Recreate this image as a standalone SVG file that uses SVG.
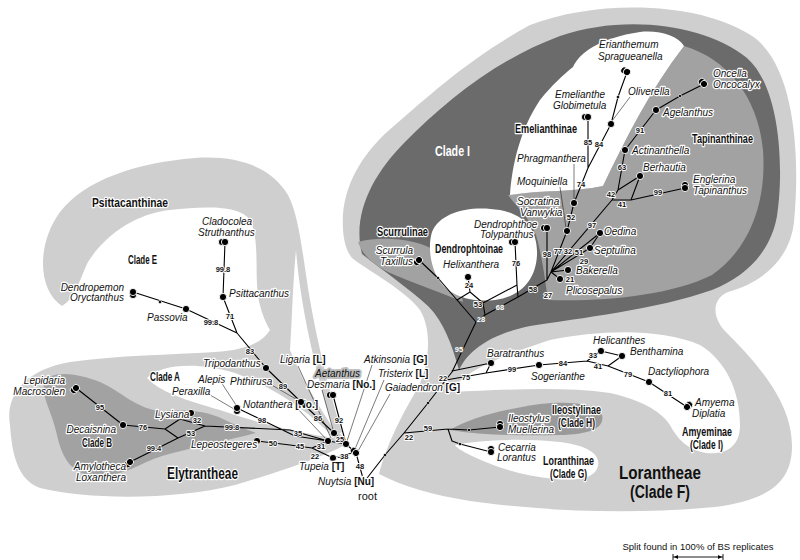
<svg xmlns="http://www.w3.org/2000/svg" width="800" height="560" viewBox="0 0 800 560">
<defs>
<style>
.lg{fill:#cfcfcf}.mg{fill:#a2a2a2}.dg{fill:#6b6b6b}.wh{fill:#fff}.ig{fill:#9a9a9a}
.br{stroke:#000;stroke-width:1.1;fill:none;stroke-linecap:round;stroke-linejoin:round}
.ld{stroke:#222;stroke-width:0.6;fill:none}
.dot{fill:#000;stroke:#fff;stroke-width:0.9}
.sd{fill:#000;stroke:#fff;stroke-width:0.6}
text{font-family:"Liberation Sans",Arial,sans-serif;stroke:#fff;stroke-width:2.4px;paint-order:stroke;stroke-linejoin:round;fill:#111}
.t{font-style:italic;font-size:10px}
.b{font-weight:bold;font-size:12.5px}
.n{font-weight:bold;font-size:7.5px;text-anchor:middle;stroke-width:1.8px}
.nw{fill:#fff;stroke:#6b6b6b}
.u{font-style:normal;font-weight:bold}
.e{text-anchor:end}
.s{font-size:9.5px;stroke:none;fill:#111}
</style>
<circle id="d" r="3.6" class="dot"/>
<g id="cr"><circle cx="-3" r="3.6" class="dot"/><circle r="3.6" class="dot"/></g>
</defs>
<rect width="800" height="560" fill="#fff"/>
<g id="regions">
<path class="lg" d="M62,306 C38,290 36,245 60,212 C85,180 135,163 195,158 C240,155 272,168 288,195 C300,218 303,260 310,300 C318,345 330,395 342,432 L334,436 C318,400 298,368 280,345 C268,330 258,310 257,285 C256,260 258,235 250,220 C240,205 205,206 170,210 C135,214 105,235 88,262 C80,278 76,298 62,306 Z"/>
<path class="lg" d="M10,425 C5,395 25,370 70,362 C120,355 170,355 215,352 C245,350 262,343 270,330 L282,340 C300,375 320,410 342,436 L343,446 C320,458 285,470 235,485 C175,500 90,500 40,488 C18,480 12,455 10,425 Z"/>
<path class="wh" d="M296,250 C300,300 312,360 333,428 C318,405 300,375 290,350 C292,320 293,280 296,250 Z"/>
<path class="wh" d="M147,378 C160,365 195,361 235,373 C275,388 310,412 334,438 C300,433 260,424 220,410 C185,400 160,392 147,378 Z"/>
<path class="mg" d="M44,384 C48,370 75,372 100,382 C122,392 138,410 162,411 C185,410 205,410 225,420 C238,426 248,430 256,433 C225,441 190,448 162,456 C140,463 125,476 98,476 C72,476 62,458 57,435 C52,412 42,398 44,384 Z"/>
<path class="lg" d="M343,214 C346,180 365,150 395,125 C430,95 470,58 530,25 C600,-2 705,2 755,38 C796,70 800,160 794,222 C790,258 764,282 728,292 C712,299 712,316 724,330 C754,360 792,400 792,446 C792,483 768,500 715,507 C630,515 540,511 470,501 C432,495 402,486 379,474 C386,446 403,412 418,388 C430,362 432,330 420,310 C405,290 370,272 352,258 C344,248 342,232 343,214 Z"/>
<path class="dg" d="M362,254 C352,215 372,175 405,142 C445,102 495,60 560,36 C625,14 705,24 747,58 C781,88 784,170 777,216 C771,250 748,276 712,290 C655,310 580,318 530,326 C496,333 470,347 459,370 C452,345 444,322 428,306 C408,288 385,272 362,254 Z"/>
<path class="mg" d="M358,242 C380,236 418,238 437,252 C452,265 460,285 463,302 C440,292 410,282 388,272 C372,264 362,254 358,242 Z"/>
<path class="mg" d="M508,195 C540,190 575,192 603,186 C625,140 650,90 684,46 C725,58 758,95 763,150 C767,205 748,250 712,275 C670,296 600,302 548,300 C545,280 542,255 536,235 C528,215 515,205 508,195 Z"/>
<path class="wh" d="M573,67 C580,52 600,38 640,32 C660,30 678,36 684,46 C650,90 625,140 603,186 C575,192 540,190 510,195 C512,165 520,130 540,100 C552,85 563,75 573,67 Z"/>
<path class="wh" d="M432,232 C440,212 470,205 500,210 C525,215 538,230 537,255 C536,280 520,297 495,300 C470,303 445,295 436,275 C430,262 428,245 432,232 Z"/>
<path class="wh" d="M452,390 C465,372 490,360 550,340 C600,330 660,328 700,345 C725,360 740,390 740,425 C740,445 728,455 706,453 C688,450 678,440 670,425 C660,410 640,400 610,393 C560,386 500,390 452,392 Z"/>
<path class="ig" d="M450,430 C470,418 500,410 540,404 C570,401 595,403 602,415 C605,428 590,434 560,435 C520,436 480,435 450,430 Z"/>
<path class="wh" d="M455,445 C480,440 520,438 560,442 C590,446 600,455 598,466 C595,478 580,481 555,479 C520,476 490,465 470,455 C462,451 457,448 455,445 Z"/>
</g>
<g id="connectors">
<path class="br" d="M76,388 L123,425 L165,429 L180,419 L191,413 M165,429 L178,438 L205,426 L180,419 M130,462 L178,438 M205,426 L290,430 L328,441 M237,408 L295,436 L328,441 M257,441 L290,445 L312,448 L328,441 M312,448 L333,458"/>
<path class="br" d="M133,292 L186,309 L237,333 M225,242 L223,297 L237,333 L266,368 L301,402 L334,433 L346,444 M333,395 L346,444 M328,441 L346,444 L356,453 L364,482 M333,458 L352,453"/>
<path class="br" d="M364,482 L385,455 L404,433 L428,403 L452,372 L476,322 M404,433 L448,429 L469,430 L500,427 M448,429 L452,441 L460,444 L491,452"/>
<path class="br" d="M446,380 L486,373 L539,365 L587,361 L601,351 M452,371 L491,363 M486,373 L491,363 M587,361 L608,366 L622,356 L601,351 M608,366 L649,382 L687,407"/>
<path class="br" d="M476,322 L457,300 L438,278 L419,260 M457,300 L470,292 L468,277 M470,292 L483,303 L517,285 L515,242 M476,322 L485,315 L483,303 M485,315 L518,297 L517,285 M518,297 L547,280 L547,228 M547,280 L551,272 L567,231 L574,203 L588,168 L588,117 M588,168 L611,124 L618,97 L627,72 M551,272 L612,200 L618,190 L625,150 L656,110 L680,96 L704,84 M618,190 L640,176 L631,200 L612,200 M631,200 L685,188 M551,272 L600,233 L590,248 L551,272 M551,272 L568,270 M551,272 L560,279"/>
<path class="ld" d="M270,384 L301,402 M221,382 L236,405 M205,392 L234,409 M295,406 L328,441 M298,366 L331,438 M322,390 L334,433 M372,365 L347,441 M384,380 L355,449 M390,394 L358,451 M560,187 L566,228 M574,164 L574,200 M630,97 L612,121"/>
<g>
<circle class="sd" cx="160" cy="302" r="1.6"/><circle class="sd" cx="438" cy="278" r="1.6"/><circle class="sd" cx="618" cy="97" r="1.6"/><circle class="sd" cx="680" cy="96" r="1.6"/><circle class="sd" cx="469" cy="430" r="1.6"/><circle class="sd" cx="460" cy="444" r="1.6"/><circle class="sd" cx="385" cy="455" r="1.6"/><circle class="sd" cx="428" cy="403" r="1.6"/>
</g>
<g>
<text class="n" x="100" y="410">95</text><text class="n" x="143" y="430">76</text><text class="n" x="197" y="423">32</text><text class="n" x="191" y="436">53</text><text class="n" x="154" y="451">99.4</text><text class="n" x="232" y="430">99.8</text>
<text class="n" x="262" y="423">98</text><text class="n" x="298" y="436">35</text><text class="n" x="273" y="446">50</text><text class="n" x="300" y="449">45</text><text class="n" x="321" y="449">31</text><text class="n" x="315" y="459">22</text>
<text class="n" x="318" y="421">86</text><text class="n" x="339" y="423">92</text><text class="n" x="340" y="442">25</text><text class="n" x="343" y="459">-38</text><text class="n" x="360" y="469">48</text><text class="n" x="283" y="389">89</text><text class="n" x="250" y="354">83</text><text class="n" x="230" y="319">71</text><text class="n" x="223" y="272">99.8</text><text class="n" x="211" y="325">99.8</text>
<text class="n" x="409" y="440">22</text><text class="n" x="428" y="431">59</text><text class="n" x="443" y="381">22</text>
<text class="n nw" x="459" y="352">95</text><text class="n nw" x="481" y="322">28</text><text class="n nw" x="500" y="310">68</text>
<text class="n" x="469" y="288">24</text><text class="n" x="478" y="307">53</text><text class="n" x="516" y="266">76</text><text class="n" x="533" y="292">58</text><text class="n" x="547" y="257">98</text><text class="n" x="548" y="298">27</text><text class="n" x="558" y="254">77</text><text class="n" x="568" y="254">32</text><text class="n" x="579" y="255">51</text><text class="n" x="584" y="264">29</text><text class="n" x="570" y="282">21</text><text class="n" x="592" y="228">97</text><text class="n" x="571" y="220">52</text><text class="n" x="581" y="187">74</text><text class="n" x="588" y="145">85</text><text class="n" x="599" y="147">84</text><text class="n" x="640" y="133">91</text><text class="n" x="622" y="170">63</text><text class="n" x="611" y="197">42</text><text class="n" x="622" y="207">41</text><text class="n" x="658" y="195">99</text>
<text class="n" x="466" y="380">75</text><text class="n" x="512" y="372">99</text><text class="n" x="563" y="366">84</text><text class="n" x="593" y="358">33</text><text class="n" x="598" y="369">41</text><text class="n" x="628" y="377">79</text><text class="n" x="668" y="396">81</text>
</g>
</g>
<g id="labels">
<text class="b" x="92" y="207" textLength="76" lengthAdjust="spacingAndGlyphs">Psittacanthinae</text>
<text class="b" x="128" y="264" textLength="29" lengthAdjust="spacingAndGlyphs">Clade E</text>
<text class="b" x="150" y="381" textLength="30" lengthAdjust="spacingAndGlyphs">Clade A</text>
<text class="b" x="82" y="447" textLength="30" lengthAdjust="spacingAndGlyphs">Clade B</text>
<text class="b" x="167" y="479" style="font-size:17px" textLength="71" lengthAdjust="spacingAndGlyphs">Elytrantheae</text>
<text class="b" x="377" y="236" textLength="51" lengthAdjust="spacingAndGlyphs">Scurrulinae</text>
<text class="b" x="435" y="253" textLength="68" lengthAdjust="spacingAndGlyphs">Dendrophtoinae</text>
<text class="b" x="435" y="156" style="font-size:15px;stroke:none;fill:#fff" textLength="35" lengthAdjust="spacingAndGlyphs">Clade I</text>
<text class="b" x="515" y="133" textLength="62" lengthAdjust="spacingAndGlyphs">Emelianthinae</text>
<text class="b" x="692" y="143" textLength="61" lengthAdjust="spacingAndGlyphs">Tapinanthinae</text>
<text class="b" x="552" y="414" textLength="49" lengthAdjust="spacingAndGlyphs">Ileostylinae</text>
<text class="b" x="558" y="427" textLength="37" lengthAdjust="spacingAndGlyphs">(Clade H)</text>
<text class="b" x="543" y="465" textLength="51" lengthAdjust="spacingAndGlyphs">Loranthinae</text>
<text class="b" x="550" y="478" textLength="37" lengthAdjust="spacingAndGlyphs">(Clade G)</text>
<text class="b" x="682" y="436" textLength="50" lengthAdjust="spacingAndGlyphs">Amyeminae</text>
<text class="b" x="690" y="449" textLength="33" lengthAdjust="spacingAndGlyphs">(Clade I)</text>
<text class="b" x="619" y="479" style="font-size:18px;stroke:none" textLength="82" lengthAdjust="spacingAndGlyphs">Lorantheae</text>
<text class="b" x="630" y="498" style="font-size:18px;stroke:none" textLength="60" lengthAdjust="spacingAndGlyphs">(Clade F)</text>
</g>
<g id="nodes">
<g id="n-lepidaria"><use href="#cr" transform="translate(76,388) rotate(-45)"/><text class="t e" x="65" y="384">Lepidaria</text><text class="t e" x="65" y="395">Macrosolen</text></g>
<g id="n-decaisnina"><use href="#d" x="123" y="425"/><text class="t e" x="116" y="433">Decaisnina</text></g>
<g id="n-lysiana"><use href="#d" x="191" y="413"/><text class="t" x="155" y="418">Lysiana</text></g>
<g id="n-amylotheca"><use href="#cr" transform="translate(130,462) rotate(-45)"/><text class="t e" x="126" y="470">Amylotheca</text><text class="t e" x="126" y="481">Loxanthera</text></g>
<g id="n-alepis"><use href="#cr" transform="translate(237,408) rotate(-90)"/><text class="t" x="198" y="383">Alepis</text><text class="t" x="172" y="395">Peraxilla</text></g>
<g id="n-notanthera"><text class="t" x="243" y="408">Notanthera <tspan class="u">[No.]</tspan></text></g>
<g id="n-tripodanthus"><use href="#d" x="266" y="368"/><text class="t" x="203" y="367">Tripodanthus</text></g>
<g id="n-phthirusa"><use href="#d" x="301" y="402"/><text class="t" x="230" y="385">Phthirusa</text></g>
<g id="n-lepeostegeres"><use href="#d" x="257" y="441"/><text class="t" x="191" y="448">Lepeostegeres</text></g>
<g id="n-dendropemon"><use href="#cr" transform="translate(133,292) rotate(-90)"/><text class="t e" x="124" y="291">Dendropemon</text><text class="t e" x="124" y="301">Oryctanthus</text></g>
<g id="n-passovia"><use href="#d" x="186" y="309"/><text class="t" x="147" y="321">Passovia</text></g>
<g id="n-psittacanthus"><use href="#d" x="223" y="297"/><text class="t" x="229" y="297">Psittacanthus</text></g>
<g id="n-cladocolea"><use href="#cr" transform="translate(225,242)"/><text class="t" x="202" y="225">Cladocolea</text><text class="t" x="198" y="236">Struthanthus</text></g>
<g id="n-ligaria"><text class="t" x="280" y="363">Ligaria <tspan class="u">[L]</tspan></text></g>
<g id="n-aetanthus"><use href="#cr" transform="translate(333,395)"/><text class="t" x="315" y="377" style="stroke:#bdbdbd;stroke-width:4px">Aetanthus</text><text class="t" x="307" y="388">Desmaria <tspan class="u">[No.]</tspan></text></g>
<g id="n-atkinsonia"><text class="t" x="364" y="363">Atkinsonia <tspan class="u">[G]</tspan></text></g>
<g id="n-tristerix"><text class="t" x="378" y="377">Tristerix <tspan class="u">[L]</tspan></text></g>
<g id="n-gaiadendron"><text class="t" x="385" y="391">Gaiadendron <tspan class="u">[G]</tspan></text></g>
<g id="n-hub"><use href="#d" x="328" y="441"/><use href="#d" x="334" y="433"/><use href="#d" x="346" y="444"/><use href="#cr" transform="translate(356,453) rotate(45)"/></g>
<g id="n-tupeia"><use href="#d" x="333" y="458"/><text class="t" x="299" y="470">Tupeia <tspan class="u">[T]</tspan></text></g>
<g id="n-nuytsia"><use href="#d" x="364" y="482"/><text class="t" x="318" y="485">Nuytsia <tspan class="u">[Nu]</tspan></text><text x="358" y="500" style="font-size:11px">root</text></g>
<g id="n-scurrula"><use href="#cr" transform="translate(419,260) rotate(-45)"/><text class="t e" x="413" y="254">Scurrula</text><text class="t e" x="413" y="265">Taxillus</text></g>
<g id="n-helixanthera"><use href="#d" x="468" y="277"/><text class="t" x="443" y="268">Helixanthera</text></g>
<g id="n-dendrophthoe"><use href="#cr" transform="translate(515,242)"/><text class="t" x="474" y="228">Dendrophthoe</text><text class="t" x="480" y="238">Tolypanthus</text></g>
<g id="n-socratina"><use href="#cr" transform="translate(547,228)"/><text class="t" x="517" y="205">Socratina</text><text class="t" x="520" y="216">Vanwykia</text></g>
<g id="n-moquiniella"><use href="#d" x="567" y="231"/><text class="t" x="517" y="185">Moquiniella</text></g>
<g id="n-phragmanthera"><use href="#d" x="574" y="203"/><text class="t" x="517" y="162">Phragmanthera</text></g>
<g id="n-emelianthe"><use href="#cr" transform="translate(588,117)"/><text class="t" x="555" y="98">Emelianthe</text><text class="t" x="553" y="109">Globimetula</text></g>
<g id="n-oliverella"><use href="#d" x="611" y="124"/><text class="t" x="628" y="95">Oliverella</text></g>
<g id="n-erianthemum"><use href="#cr" transform="translate(627,72) rotate(30)"/><text class="t" x="599" y="48">Erianthemum</text><text class="t" x="598" y="60">Spragueanella</text></g>
<g id="n-oncella"><use href="#cr" transform="translate(704,84) rotate(45)"/><text class="t" x="713" y="77">Oncella</text><text class="t" x="713" y="88">Oncocalyx</text></g>
<g id="n-agelanthus"><use href="#d" x="656" y="110"/><text class="t" x="663" y="116">Agelanthus</text></g>
<g id="n-actinanthella"><use href="#d" x="625" y="150"/><text class="t" x="632" y="154">Actinanthella</text></g>
<g id="n-berhautia"><use href="#d" x="640" y="176"/><text class="t" x="643" y="171">Berhautia</text></g>
<g id="n-englerina"><use href="#cr" transform="translate(685,188) rotate(90)"/><text class="t" x="693" y="183">Englerina</text><text class="t" x="693" y="194">Tapinanthus</text></g>
<g id="n-oedina"><use href="#d" x="600" y="233"/><text class="t" x="604" y="235">Oedina</text></g>
<g id="n-septulina"><use href="#d" x="590" y="248"/><text class="t" x="594" y="254">Septulina</text></g>
<g id="n-bakerella"><use href="#d" x="568" y="270"/><text class="t" x="576" y="274">Bakerella</text></g>
<g id="n-plicosepalus"><use href="#d" x="560" y="279"/><text class="t" x="566" y="294">Plicosepalus</text></g>
<g id="n-baratranthus"><use href="#d" x="491" y="363"/><text class="t" x="487" y="357">Baratranthus</text></g>
<g id="n-sogerianthe"><use href="#d" x="539" y="365"/><text class="t" x="531" y="380">Sogerianthe</text></g>
<g id="n-helicanthes"><use href="#d" x="601" y="351"/><text class="t" x="593" y="344">Helicanthes</text></g>
<g id="n-benthamina"><use href="#d" x="622" y="356"/><text class="t" x="630" y="355">Benthamina</text></g>
<g id="n-dactyliophora"><use href="#d" x="649" y="382"/><text class="t" x="648" y="375">Dactyliophora</text></g>
<g id="n-amyema"><use href="#cr" transform="translate(687,407) rotate(135)"/><text class="t" x="695" y="406">Amyema</text><text class="t" x="692" y="417">Diplatia</text></g>
<g id="n-ileostylus"><use href="#cr" transform="translate(500,427) rotate(90)"/><text class="t" x="508" y="422">Ileostylus</text><text class="t" x="508" y="433">Muellerina</text></g>
<g id="n-cecarria"><use href="#cr" transform="translate(491,452) rotate(90)"/><text class="t" x="498" y="451">Cecarria</text><text class="t" x="497" y="461">Lorantus</text></g>
</g>
<g id="scale">
<text class="s" x="698" y="550" text-anchor="middle">Split found in 100% of BS replicates</text>
<path d="M673,557 L723,557 M673,554 V560 M723,554 V560" stroke="#000" stroke-width="0.9" fill="none"/>
<path d="M674,557 l4,-2 v4 z M722,557 l-4,-2 v4 z" fill="#000"/>
</g>
</svg>
